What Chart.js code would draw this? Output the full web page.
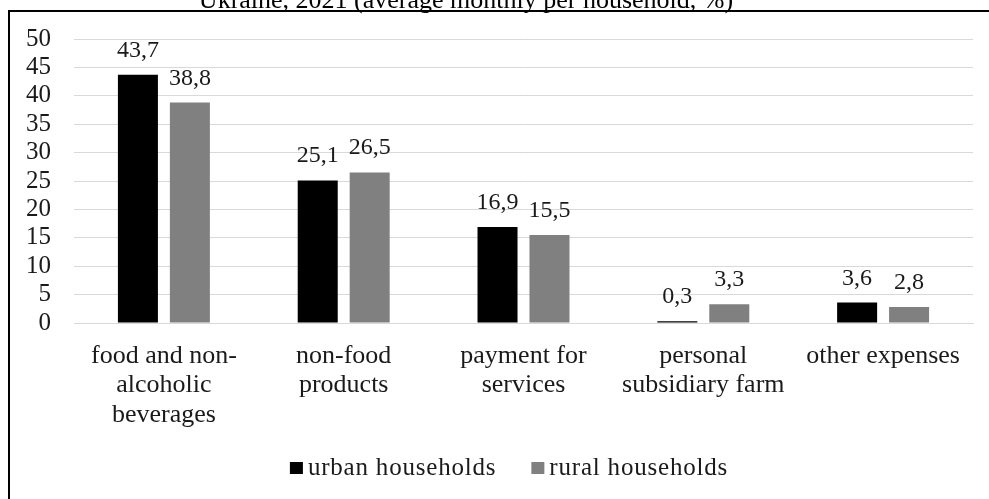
<!DOCTYPE html>
<html>
<head>
<meta charset="utf-8">
<title>Household expenses</title>
<script src="https://cdn.jsdelivr.net/npm/chart.js@4/dist/chart.umd.min.js"></script>
<style>
	html, body { margin: 0; padding: 0; background: #fff; }
	#wrap { position: relative; width: 989px; height: 499px; }
</style>
</head>
<body>
<div id="wrap"><canvas id="expenseChart" width="989" height="499"></canvas></div>
<script>
	'use strict';

	const titleText = 'Ukraine, 2021 (average monthly per household, %)';
	const categories = [
		['food and non-', 'alcoholic', 'beverages'],
		['non-food', 'products'],
		['payment for', 'services'],
		['personal', 'subsidiary farm'],
		['other expenses']
	];
	const seriesNames = ['urban households', 'rural households'];
	const seriesColors = ['#000000', '#808080'];
	const urbanValues = [43.7, 25.1, 16.9, 0.3, 3.6];
	const ruralValues = [38.8, 26.5, 15.5, 3.3, 2.8];
	const yMin = 0, yMax = 50, yStep = 5;

	(function (window, document, undefined) {
		let FONT = "'Liberation Serif', 'Times New Roman', serif";
		let TEXT = '#1a1a1a';
		let GRID = '#d9d9d9';

		// outer frame and the caption line above it
		let framePlugin = {
			id: 'frame',
			beforeDraw: function (chart) {
				let ctx = chart.ctx;
				ctx.save();
				ctx.strokeStyle = '#000';
				ctx.lineWidth = 2;
				ctx.beginPath();
				ctx.moveTo(9, chart.height + 2);
				ctx.lineTo(9, 11);
				ctx.lineTo(chart.width + 2, 11);
				ctx.stroke();

				ctx.fillStyle = '#000';
				ctx.font = '26px ' + FONT;
				ctx.textAlign = 'center';
				ctx.textBaseline = 'alphabetic';
				ctx.fillText(titleText, 466, 8);
				ctx.restore();
			}
		};

		// value above each bar, comma as decimal mark
		let valuePlugin = {
			id: 'values',
			afterDatasetsDraw: function (chart) {
				let ctx = chart.ctx;
				ctx.save();
				ctx.fillStyle = TEXT;
				ctx.font = '24px ' + FONT;
				ctx.textAlign = 'center';
				ctx.textBaseline = 'alphabetic';
				chart.data.datasets.forEach(function (ds, i) {
					chart.getDatasetMeta(i).data.forEach(function (bar, j) {
						let txt = ds.data[j].toFixed(1).replace('.', ',');
						ctx.fillText(txt, bar.x, bar.y - 18);
					});
				});
				ctx.restore();
			}
		};

		// small legend row: tight box-to-text gap, wide gap between items
		let legendPlugin = {
			id: 'keyRow',
			afterDraw: function (chart) {
				let ctx = chart.ctx;
				let box = 13, gap = 5, itemGap = 35;
				let cx = 509, cy = 468;
				ctx.save();
				ctx.font = '25px ' + FONT;
				ctx.letterSpacing = '0.8px';
				let items = chart.data.datasets.map(function (ds) {
					return { text: ds.label, color: ds.backgroundColor, w: ctx.measureText(ds.label).width };
				});
				let total = items.reduce(function (s, it) { return s + box + gap + it.w; }, 0) + itemGap * (items.length - 1);
				let x = cx - total / 2;
				ctx.textAlign = 'left';
				ctx.textBaseline = 'middle';
				items.forEach(function (it) {
					ctx.fillStyle = it.color;
					ctx.fillRect(x, cy - 6, box, 12);
					ctx.fillStyle = TEXT;
					ctx.fillText(it.text, x + box + gap, cy);
					x += box + gap + it.w + itemGap;
				});
				ctx.restore();
			}
		};

		let ctx = document.getElementById('expenseChart').getContext('2d');
		new Chart(ctx, {
			type: 'bar',
			data: {
				labels: categories,
				datasets: [{
					label: seriesNames[0],
					data: urbanValues,
					backgroundColor: seriesColors[0]
				}, {
					label: seriesNames[1],
					data: ruralValues,
					backgroundColor: seriesColors[1]
				}]
			},
			options: {
				responsive: false,
				animation: false,
				devicePixelRatio: 1,
				categoryPercentage: 0.578,
				barPercentage: 0.77,
				layout: {
					padding: { top: 39, right: 16, bottom: 46, left: 0 }
				},
				plugins: {
					title: { display: false },
					tooltip: { enabled: false },
					legend: { display: false }
				},
				scales: {
					x: {
						grid: { display: false, drawTicks: false },
						border: { color: GRID, width: 1 },
						afterFit: function (scale) { scale.height = 130; },
						ticks: {
							autoSkip: false,
							maxRotation: 0,
							padding: 18,
							color: TEXT,
							font: { family: FONT, size: 26, lineHeight: 1.14 }
						}
					},
					y: {
						min: yMin,
						max: yMax,
						grid: { color: GRID, drawTicks: false },
						border: { display: false },
						afterFit: function (scale) { scale.width = 74; },
						ticks: {
							stepSize: yStep,
							autoSkip: false,
							padding: 23,
							color: TEXT,
							font: { family: FONT, size: 25 }
						}
					}
				}
			},
			plugins: [framePlugin, valuePlugin, legendPlugin]
		});
	})(window, document);
</script>
</body>
</html>
